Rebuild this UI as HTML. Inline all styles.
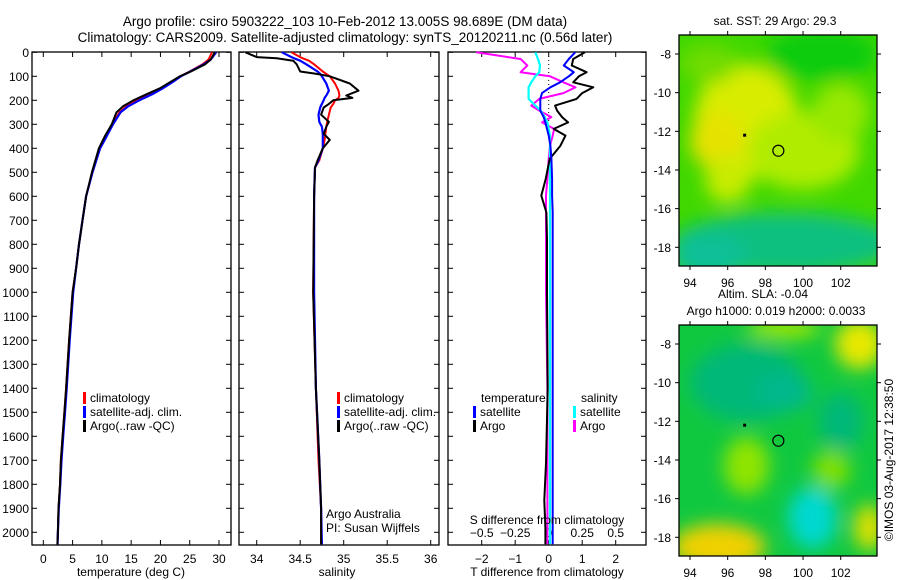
<!DOCTYPE html>
<html><head><meta charset="utf-8">
<style>
body{margin:0;background:#fff;}
svg{display:block;font-family:"Liberation Sans",sans-serif;}
text{fill:#000;}
</style></head>
<body>
<svg id="fig" width="900" height="580" viewBox="0 0 900 580" xmlns="http://www.w3.org/2000/svg">
<text x="345" y="26" font-size="13.5" text-anchor="middle">Argo profile: csiro 5903222_103 10-Feb-2012 13.005S 98.689E (DM data)</text>
<text x="345" y="42" font-size="13.5" text-anchor="middle">Climatology: CARS2009. Satellite-adjusted climatology: synTS_20120211.nc (0.56d later)</text>
<g id="panels"></g>
<g id="maps"></g>
<text transform="translate(893,460) rotate(-90)" font-size="12" text-anchor="middle">©IMOS 03-Aug-2017 12:38:50</text>
</svg>
<script>
// ---- data ----
const tDepth = [0,30,50,80,100,125,150,175,200,225,250,300,350,400,500,600,700,800,900,1000,1200,1400,1500,1600,1700,1800,1900,2000,2050];
const tArgo  = [29.3,28.6,27.6,25.2,23.3,21.6,19.9,17.6,15.4,13.6,12.5,11.7,10.5,9.5,8.3,7.3,6.7,6.1,5.6,5.0,4.4,3.9,3.6,3.3,3.0,2.85,2.6,2.5,2.4];
const tClim  = [28.8,28.2,27.2,25.0,23.4,21.8,20.2,18.2,16.0,14.2,13.0,11.8,10.8,9.7,8.4,7.3,6.7,6.1,5.6,5.0,4.4,3.9,3.6,3.3,3.0,2.85,2.6,2.5,2.4];
const tSat   = [29.5,28.6,27.4,25.1,23.5,22.0,20.4,18.6,16.4,14.5,13.2,11.9,10.8,9.7,8.4,7.3,6.7,6.1,5.6,5.1,4.5,4.0,3.7,3.4,3.1,2.9,2.65,2.5,2.45];
const sDepth = [0,20,25,35,50,80,90,100,130,160,180,190,200,215,230,260,290,310,340,365,400,450,480,600,1000,1400,1700,1900,2050];
const sArgo  = [33.87,34.0,34.23,34.42,34.46,34.5,34.69,34.84,35.07,35.17,35.03,35.1,34.88,34.83,34.77,34.74,34.83,34.8,34.77,34.84,34.76,34.7,34.67,34.66,34.65,34.68,34.72,34.74,34.74];
const sClim  = [34.4,34.5,34.53,34.6,34.66,34.76,34.8,34.84,34.9,34.94,34.95,34.94,34.9,34.88,34.85,34.83,34.81,34.8,34.79,34.78,34.76,34.72,34.67,34.66,34.65,34.68,34.71,34.74,34.74];
const sSat   = [34.29,34.4,34.43,34.5,34.57,34.7,34.73,34.75,34.8,34.83,34.8,34.78,34.77,34.75,34.73,34.71,34.72,34.75,34.76,34.76,34.76,34.71,34.67,34.66,34.66,34.68,34.72,34.74,34.75];
const dDepth = [0,28,55,83,100,125,146,170,194,222,243,270,292,319,347,389,444,528,597,667,778,1000,1400,1713,1867,1983,2050];
const dTArgo = [1.08,0.73,0.69,1.13,0.9,0.73,1.33,1.0,0.83,0.19,0.25,0.4,0.58,0.15,0.5,0.35,0.03,-0.09,-0.22,-0.07,-0.05,-0.05,-0.03,-0.08,-0.13,-0.1,-0.1];
const dTSat  = [0.79,0.6,0.45,0.75,0.6,0.34,0.05,-0.2,-0.25,-0.25,-0.25,-0.15,-0.1,-0.05,0,0.05,0.08,0.1,0.1,0.12,0.12,0.12,0.12,0.12,0.12,0.12,0.12];
const dSArgo = [-0.54,-0.21,-0.16,-0.21,0.01,0.11,0.2,0.11,-0.07,-0.13,-0.07,0.02,-0.05,0.04,0.03,0.01,0.0,-0.01,-0.02,-0.02,-0.02,-0.02,-0.01,-0.01,-0.01,-0.01,-0.01];
const dSSat  = [-0.1,-0.08,-0.065,-0.07,-0.1,-0.13,-0.15,-0.15,-0.15,-0.1,-0.06,-0.03,-0.01,0.0,0.01,0.01,0.01,0.01,0.01,0.01,0.01,0.01,0.01,0.01,0.01,0.01,0.01];
const depthTicks = [0,100,200,300,400,500,600,700,800,900,1000,1100,1200,1300,1400,1500,1600,1700,1800,1900,2000];
const tTicks = [0,5,10,15,20,25,30];
const sTicks = [34,34.5,35,35.5,36];
const dTTicks = [-2,-1,0,1,2];
const dSTicks = [-0.5,-0.25,0,0.25,0.5];
const lonTicks = [94,96,98,100,102];
const latTicks = [-8,-10,-12,-14,-16,-18];

// ---- helpers ----
const NS="http://www.w3.org/2000/svg";
function mk(tag,attrs,parent){const e=document.createElementNS(NS,tag);for(const k in attrs)e.setAttribute(k,attrs[k]);parent.appendChild(e);return e;}
const P=document.getElementById('panels');
const TOP=52,BOT=545,yD=d=>52.3+d*0.24;

function frame(x0,x1,name){
  const r=mk('rect',{x:x0,y:TOP,width:x1-x0,height:BOT-TOP,fill:'none',stroke:'#000','stroke-width':1.3},P);
  
  
  depthTicks.forEach(d=>{
    mk('line',{x1:x0,x2:x0+5,y1:yD(d),y2:yD(d),stroke:'#000'},P);
    mk('line',{x1:x1,x2:x1-5,y1:yD(d),y2:yD(d),stroke:'#000'},P);
  });
}
function xticks(vals,xf,labY,name,fmt){
  vals.forEach(v=>{
    const x=xf(v);
    mk('line',{x1:x,x2:x,y1:BOT,y2:BOT-5,stroke:'#000'},P);
    mk('line',{x1:x,x2:x,y1:TOP,y2:TOP+5,stroke:'#000'},P);
    const t=mk('text',{x:x,y:labY,'font-size':12,'text-anchor':'middle'},P);
    t.textContent=fmt?fmt(v):String(v);
    
    
  });
}
function line(xs,ds,xf,color,w,name){
  const pts=xs.map((v,i)=>xf(v).toFixed(1)+','+yD(ds[i]).toFixed(1)).join(' ');
  const p=mk('polyline',{points:pts,fill:'none',stroke:color,'stroke-width':w,'stroke-linejoin':'round'},P);
  
  
}
function label(x,y,txt,name,size,anchor){
  const t=mk('text',{x:x,y:y,'font-size':size||12,'text-anchor':anchor||'start'},P);
  t.textContent=txt;
  
  
}
function legend(x,y,color,txt,name){
  const r=mk('rect',{x:x,y:y-10,width:3,height:12,fill:color},P);
  
  
  label(x+7,y,txt,name);
}

// depth axis labels
depthTicks.forEach(d=>{
  const t=mk('text',{x:29,y:yD(d)+4.5,'font-size':12,'text-anchor':'end'},P);
  t.textContent=String(d);
  
  
});

// Panel 1: temperature
const xT=v=>43.3+v*5.857;
frame(32,231,'temperature-panel');
xticks(tTicks,xT,563,'temperature-tick-label');
line(tClim,tDepth,xT,'#ff0000',2,'temperature-climatology-line');
line(tSat,tDepth,xT,'#0000ff',2.2,'temperature-satellite-line');
line(tArgo,tDepth,xT,'#000000',2,'temperature-argo-line');
label(131,576,'temperature (deg C)','temperature-axis-title',12,'middle');
legend(83,402,'#ff0000','climatology','legend-climatology');
legend(83,416,'#0000ff','satellite-adj. clim.','legend-satellite-adj');
legend(83,430,'#000000','Argo(..raw -QC)','legend-argo');

// Panel 2: salinity
const xS=v=>256.7+(v-34)*87;
frame(239,439,'salinity-panel');
xticks(sTicks,xS,563,'salinity-tick-label');
line(sClim,sDepth,xS,'#ff0000',2,'salinity-climatology-line');
line(sSat,sDepth,xS,'#0000ff',2.2,'salinity-satellite-line');
line(sArgo,sDepth,xS,'#000000',2,'salinity-argo-line');
label(337,576,'salinity','salinity-axis-title',12,'middle');
legend(337,402,'#ff0000','climatology','legend-climatology-2');
legend(337,416,'#0000ff','satellite-adj. clim.','legend-satellite-adj-2');
legend(337,430,'#000000','Argo(..raw -QC)','legend-argo-2');
label(326,518,'Argo Australia','argo-australia-note');
label(326,532,'PI: Susan Wijffels','pi-note');

// Panel 3: differences
const xDT=v=>548.7+v*33.5, xDS=v=>548.7+v*134;
frame(448,646,'difference-panel');
xticks(dTTicks,xDT,563,'t-diff-tick-label',v=>v<0?'\u2212'+(-v):String(v));
dSTicks.forEach(v=>{
  const t=mk('text',{x:xDS(v),y:537,'font-size':12,'text-anchor':'middle'},P);
  t.textContent=v<0?'\u2212'+(-v):String(v);
  
  
});
mk('line',{x1:xDT(0),x2:xDT(0),y1:TOP,y2:yD(300),stroke:'#000','stroke-dasharray':'1,3'},P);
line(dSArgo,dDepth,xDS,'#ff00ff',2,'salinity-diff-argo-line');
line(dSSat,dDepth,xDS,'#00ffff',2.2,'salinity-diff-satellite-line');
line(dTArgo,dDepth,xDT,'#000000',2,'temperature-diff-argo-line');
line(dTSat,dDepth,xDT,'#0000ff',2,'temperature-diff-satellite-line');
label(547,576,'T difference from climatology','t-diff-axis-title',12,'middle');
label(547,524,'S difference from climatology','s-diff-axis-title',12,'middle');
label(481,402,'temperature','legend-temperature-header');
label(581,402,'salinity','legend-salinity-header');
legend(473,416,'#0000ff','satellite','legend-t-satellite');
legend(473,430,'#000000','Argo','legend-t-argo');
legend(573,416,'#00ffff','satellite','legend-s-satellite');
legend(573,430,'#ff00ff','Argo','legend-s-argo');

// ---- maps ----
const M=document.getElementById('maps');
const lonX=v=>690+(v-94)*18.84;
function map(y0,latY,name,bg,blobs,titles){
  const g=mk('g',{},M);
  
  
  const cid=name+'-clip';
  const cp=mk('clipPath',{id:cid},g);
  mk('rect',{x:679,y:y0,width:198,height:231},cp);
  const f=mk('filter',{id:name+'-blur',x:'-50%',y:'-50%',width:'200%',height:'200%'},g);
  mk('feGaussianBlur',{stdDeviation:9},f);
  const inner=mk('g',{'clip-path':'url(#'+cid+')'},g);
  mk('rect',{x:679,y:y0,width:198,height:231,fill:bg},inner);
  const bg2=mk('g',{filter:'url(#'+name+'-blur)'},inner);
  blobs.forEach(b=>mk('ellipse',{cx:lonX(b[0]),cy:latY(b[1]),rx:b[2]*18.84,ry:b[3]*19.3,fill:b[4]},bg2));
  mk('rect',{x:679,y:y0,width:198,height:231,fill:'none',stroke:'#000','stroke-width':1.3},g);
  lonTicks.forEach(v=>{
    const x=lonX(v);
    mk('line',{x1:x,x2:x,y1:y0,y2:y0-4,stroke:'#000'},g);
    mk('line',{x1:x,x2:x,y1:y0+231,y2:y0+235,stroke:'#000'},g);
    const t=mk('text',{x:x,y:y0+252,'font-size':12,'text-anchor':'middle'},g);
    t.textContent=String(v);
    
    
  });
  latTicks.forEach(v=>{
    const y=latY(v);
    mk('line',{x1:679,x2:675,y1:y,y2:y,stroke:'#000'},g);
    mk('line',{x1:877,x2:881,y1:y,y2:y,stroke:'#000'},g);
    const t=mk('text',{x:671,y:y+4.5,'font-size':12,'text-anchor':'end'},g);
    t.textContent='-'+(-v);
    
    
  });
  const c=mk('circle',{cx:lonX(98.689),cy:latY(-13.005),r:5.5,fill:'none',stroke:'#000','stroke-width':1.2},g);
  
  
  mk('rect',{x:lonX(96.9)-1.5,y:latY(-12.2)-1.5,width:3,height:3,fill:'#000'},g);
  titles.forEach((tt,i)=>{
    const t=mk('text',{x:tt[1],y:tt[2],'font-size':12,'text-anchor':'middle'},g);
    t.textContent=tt[0];
    
    
  });
}
const lat1=v=>54+(-8-v)*19.33, lat2=v=>344+(-8-v)*19.33;
map(35,lat1,'sst-map','#40d800',[
  [97,-11.5,2.8,3,'#d8ec00'],[95.5,-12.5,1.5,1.5,'#e6e200'],[100,-13,3,2,'#b0ec00'],[102,-11,1.5,1.5,'#98e800'],
  [96,-14.5,1.2,1.2,'#c8ec00'],[99,-17.8,6,1.6,'#10c080'],[95,-18.5,2,1.2,'#08c098'],[101,-8,3,1.4,'#10cc10'],[95,-8.5,1.5,1,'#70dc00']
],[['sat. SST: 29 Argo: 29.3',775,25]]);
map(325,lat2,'sla-map','#10c840',[
  [97,-10,3,2,'#00b878'],[99,-10.5,1.5,1,'#00b88c'],[102,-12,1.2,1.5,'#00b878'],
  [97,-14.3,1.2,1.5,'#90e400'],[101.5,-14.5,1,1,'#80e000'],[100.5,-17,1.3,1.6,'#00d8d0'],
  [95.5,-18.5,2.5,1.2,'#f0d000'],[103,-8,1.3,1.3,'#e8e800'],[103.5,-17.5,0.8,1.2,'#e0e000'],[99,-7.2,2,0.5,'#a8e800']
],[['Altim. SLA: -0.04',763,298],['Argo h1000: 0.019 h2000: 0.0033',776,315]]);
</script>
</body></html>
